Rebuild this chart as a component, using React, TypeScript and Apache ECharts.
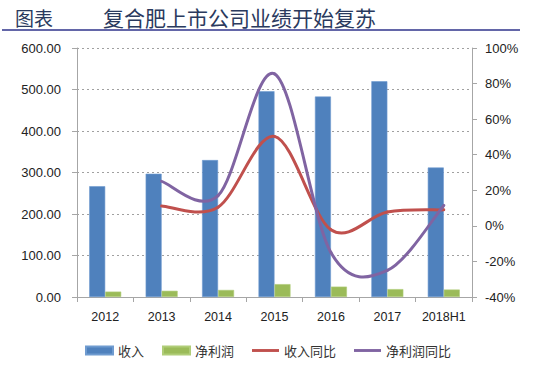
import React, { useEffect, useRef } from "react";
import * as echarts from "echarts";

const categories = ["2012", "2013", "2014", "2015", "2016", "2017", "2018H1"];
const revenue = [267, 297, 330, 496, 483, 520, 312];
const netProfit = [13, 15, 17, 31, 25, 19, 18];
const revenueYoY: (number | null)[] = [null, 11.2, 10.5, 50.3, -2.2, 7.8, 9.0];
const profitYoY: (number | null)[] = [null, 25, 17, 85.5, -15, -25, 11.5];
const leftTicks = { min: 0, max: 600, interval: 100 };
const rightTicks = { min: -40, max: 100, interval: 20 };

const FONT = "'Liberation Sans', 'Noto Sans CJK SC', sans-serif";
const CJK = "'Noto Sans CJK SC', sans-serif";
const AXIS_GREY = "#a6a6a6";
const LINE_ICON = "path://M0,0 L28,0 L28,3 L0,3 Z";

// Excel-style smoothed line (uniform Catmull-Rom as cubic Bezier segments)
function smoothSeries(name: string, values: (number | null)[], color: string) {
  return {
    name,
    type: "custom",
    yAxisIndex: 1,
    z: 10,
    clip: false,
    itemStyle: { color },
    data: values.map((v, i) => [i, v]),
    encode: { x: 0, y: 1 },
    renderItem: (params: any, api: any) => {
      const i = api.value(0) as number;
      const v0 = values[i];
      const v1 = values[i + 1];
      if (v0 == null || v1 == null) return null;
      const p = (k: number) => api.coord([k, values[k]]);
      const a = p(i);
      const b = p(i + 1);
      const prev = i - 1 >= 0 && values[i - 1] != null ? p(i - 1) : a;
      const next = i + 2 < values.length && values[i + 2] != null ? p(i + 2) : b;
      return {
        type: "bezierCurve",
        z2: 10,
        shape: {
          x1: a[0],
          y1: a[1],
          x2: b[0],
          y2: b[1],
          cpx1: a[0] + (b[0] - prev[0]) / 6,
          cpy1: a[1] + (b[1] - prev[1]) / 6,
          cpx2: b[0] - (next[0] - a[0]) / 6,
          cpy2: b[1] - (next[1] - a[1]) / 6,
        },
        style: { stroke: color, lineWidth: 3, fill: "none", lineCap: "round" },
      };
    },
  };
}

export default function App() {
  const ref = useRef<HTMLDivElement>(null);
  useEffect(() => {
    document.body.style.margin = "0";
    const chart = echarts.init(ref.current!, null, { renderer: "svg" });
    chart.setOption({
      animation: false,
      backgroundColor: "#ffffff",
      textStyle: { fontFamily: FONT },
      graphic: [
        {
          type: "text",
          x: 15,
          y: 17,
          style: { text: "图表", font: `19px ${CJK}`, fill: "#2a3a5e", verticalAlign: "middle" },
        },
        {
          type: "text",
          x: 103,
          y: 17,
          style: {
            text: "复合肥上市公司业绩开始复苏",
            font: `21px ${CJK}`,
            fill: "#2a3a5e",
            verticalAlign: "middle",
          },
        },
        {
          type: "line",
          shape: { x1: 2, y1: 30, x2: 520, y2: 30 },
          style: { stroke: "#6366a8", lineWidth: 2 },
        },
      ],
      grid: { left: 77, right: 63, top: 48, bottom: 71, containLabel: false },
      legend: {
        left: 80,
        top: 339,
        itemGap: 18,
        itemWidth: 27,
        itemHeight: 8,
        textStyle: { fontFamily: CJK, fontSize: 13, color: "#333" },
        data: [
          { name: "收入", icon: "rect" },
          { name: "净利润", icon: "rect" },
          { name: "收入同比", icon: LINE_ICON },
          { name: "净利润同比", icon: LINE_ICON },
        ],
      },
      xAxis: {
        type: "category",
        data: categories,
        axisLine: { lineStyle: { color: AXIS_GREY } },
        axisTick: { show: true, length: 5, lineStyle: { color: AXIS_GREY } },
        axisLabel: { color: "#222", fontSize: 12.5, margin: 14, interval: 0, fontFamily: FONT },
      },
      yAxis: [
        {
          type: "value",
          min: leftTicks.min,
          max: leftTicks.max,
          interval: leftTicks.interval,
          axisLine: { show: true, lineStyle: { color: AXIS_GREY } },
          axisTick: { show: true, length: 5, lineStyle: { color: AXIS_GREY } },
          axisLabel: {
            color: "#222",
            fontSize: 13,
            margin: 16,
            formatter: (v: number) => v.toFixed(2),
          },
          splitLine: { show: true, lineStyle: { color: "#a0a0a0", type: [2, 3] } },
        },
        {
          type: "value",
          min: rightTicks.min,
          max: rightTicks.max,
          interval: rightTicks.interval,
          axisLine: { show: true, lineStyle: { color: AXIS_GREY } },
          axisTick: { show: true, length: 5, lineStyle: { color: AXIS_GREY } },
          axisLabel: { color: "#222", fontSize: 13, margin: 13, formatter: "{value}%" },
          splitLine: { show: false },
        },
      ],
      series: [
        {
          name: "收入",
          type: "bar",
          data: revenue,
          barWidth: 16,
          barGap: "0%",
          z: 2,
          itemStyle: { color: "#4f81bd", borderColor: "#6f9bd0", borderWidth: 0.6 },
        },
        {
          name: "净利润",
          type: "bar",
          data: netProfit,
          barWidth: 16,
          barGap: "0%",
          z: 2,
          itemStyle: { color: "#9bbb59", borderColor: "#b0cd78", borderWidth: 0.6 },
        },
        smoothSeries("收入同比", revenueYoY, "#c0504d"),
        smoothSeries("净利润同比", profitYoY, "#8064a2"),
      ],
    });
    return () => chart.dispose();
  }, []);
  return <div ref={ref} style={{ width: 535, height: 368 }} />;
}
